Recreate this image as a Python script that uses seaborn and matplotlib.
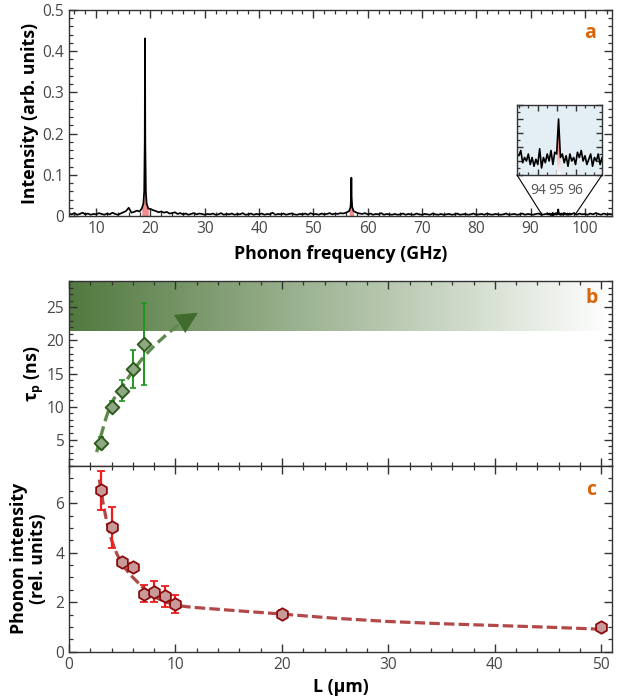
import numpy as np
import matplotlib
matplotlib.use("Agg")
import matplotlib.pyplot as plt
import seaborn as sns
from matplotlib.ticker import MultipleLocator, FuncFormatter
from matplotlib.patches import ConnectionPatch
from matplotlib.colors import LinearSegmentedColormap

# ---------------- (a) phonon spectrum ----------------
# background signal, sampled every 0.5 GHz from 5 GHz, in units of 1e-3
baseline_milli = [
    6, 4, 7, 3, 5, 8, 4, 6, 3, 5,
    4, 7, 5, 3, 6, 4, 8, 5, 3, 6,
    9, 12, 20, 8, 10, 13, 11, 16, 22, 18,
    17, 14, 12, 9, 11, 8, 10, 6, 7, 9,
    5, 7, 4, 6, 3, 5, 7, 4, 6, 5,
    3, 5, 4, 6, 3, 4, 7, 3, 5, 4,
    6, 3, 5, 4, 7, 3, 4, 6, 3, 5,
    4, 6, 3, 5, 4, 8, 3, 5, 4, 6,
    3, 5, 6, 4, 3, 5, 4, 6, 3, 7,
    4, 5, 3, 6, 4, 5, 7, 4, 6, 5,
    7, 6, 8, 9, 14, 12, 8, 6, 5, 7,
    4, 6, 3, 5, 4, 7, 3, 5, 4, 3,
    5, 3, 4, 6, 3, 5, 4, 3, 6, 4,
    3, 5, 4, 3, 6, 4, 3, 5, 3, 4,
    5, 3, 4, 6, 3, 4, 5, 3, 4, 6,
    3, 4, 5, 3, 6, 4, 3, 5, 4, 3,
    4, 6, 3, 4, 5, 3, 4, 6, 3, 5,
    4, 3, 5, 6, 3, 4, 5, 3, 6, 4,
    9, 4, 6, 3, 5, 4, 7, 3, 6, 4,
    5, 3, 6, 4, 7, 5, 3, 6, 4, 5,
    4,
]
peak19_freq = [18.4, 18.7, 18.85, 18.95, 19.0, 19.05, 19.15, 19.3, 19.6]
peak19_int = [0.018, 0.03, 0.06, 0.18, 0.431, 0.18, 0.06, 0.03, 0.018]
peak57_freq = [56.6, 56.85, 56.95, 57.0, 57.05, 57.15, 57.4]
peak57_int = [0.012, 0.022, 0.045, 0.093, 0.045, 0.022, 0.012]

# fine scan around 95 GHz (units of 1e-3), 0.1 GHz steps from 93.0 GHz
zoom_milli = [
    5.5, 7, 3.5, 5, 4, 6, 3, 5, 2.5, 4.5,
    3, 7.5, 2, 5, 3.5, 6, 4, 7, 3, 6.5,
    6, 16, 5, 6, 3.5, 5.5, 2.5, 6, 4, 5,
    3, 6.5, 5, 7, 4, 5.5, 3, 4.5, 6, 2.5,
    5, 4, 6, 3, 5, 4,
]
zoom_ticks = [94, 95, 96]

# ---------------- (b) lifetime ----------------
L_tau = [3, 4, 5, 6, 7]
tau = [4.5, 10.0, 12.4, 15.7, 19.5]
tau_err = [0.9, 0.8, 1.6, 2.9, 6.2]
tau_trend_L = [2.6, 3.0, 3.5, 4.0, 4.5, 5.0, 6.0, 7.0, 8.0, 9.3, 10.5]
tau_trend = [3.1, 5.6, 8.4, 10.6, 11.9, 13.0, 15.4, 17.5, 19.2, 21.1, 22.6]
tau_arrow_tip = (12.1, 24.2)
tau_band = (21.4, 29.0)

# ---------------- (c) phonon intensity ----------------
L_int = [3, 4, 5, 6, 7, 8, 9, 10, 20, 50]
phonon = [6.52, 5.02, 3.64, 3.44, 2.34, 2.43, 2.23, 1.93, 1.53, 0.99]
phonon_err = [0.78, 0.83, 0.10, 0.15, 0.35, 0.44, 0.44, 0.37, 0.15, 0.06]
fit_L = [2.85, 3.2, 3.5, 4.0, 4.5, 5.0, 6.0, 7.0, 8.0, 9.0, 10.0, 11.0, 12.0,
         15.0, 20.0, 25.0, 30.0, 35.0, 40.0, 45.0, 50.5]
fit_int = [6.95, 6.0, 5.35, 4.5, 3.95, 3.5, 3.0, 2.57, 2.22, 2.02, 1.88, 1.82,
           1.78, 1.68, 1.52, 1.35, 1.22, 1.13, 1.06, 0.99, 0.9]

# ---------------- style ----------------
sns.set_theme(style="ticks")
plt.rcParams["font.family"] = ["Open Sans", "DejaVu Sans"]
plt.rcParams["mathtext.fontset"] = "custom"
plt.rcParams["mathtext.rm"] = "Open Sans"
plt.rcParams["mathtext.bf"] = "Open Sans:bold"
plt.rcParams["mathtext.it"] = "Open Sans:italic"

SPINE = "#333333"
TICKLAB = "#484848"
ORANGE = "#d9650b"
LABEL_SIZE = 12.8
TICK_SIZE = 11.2

fig = plt.figure(figsize=(6.23, 7.0), dpi=100)
W, H = 623, 700


def px_axes(x0, y0, x1, y1):
    return fig.add_axes([x0 / W, 1 - y1 / H, (x1 - x0) / W, (y1 - y0) / H])


ax_a = px_axes(69, 10, 612, 216)
ax_b = px_axes(69, 281, 612, 466)
ax_c = px_axes(69, 466, 612, 651.7)
ax_in = px_axes(517, 105, 602, 175)


def style_axes(ax, labelsize=TICK_SIZE):
    for s in ax.spines.values():
        s.set_color(SPINE)
        s.set_linewidth(1.0)
    ax.tick_params(which="both", direction="in", top=True, right=True,
                   color=SPINE, labelcolor=TICKLAB, labelsize=labelsize)
    ax.tick_params(which="major", length=5.5, width=1.0)
    ax.tick_params(which="minor", length=3, width=0.9)


# ---- panel a ----
base_f = 5.0 + 0.5 * np.arange(len(baseline_milli))
base_v = np.array(baseline_milli) * 1e-3
zoom_f = 93.0 + 0.1 * np.arange(len(zoom_milli))
zoom_v = np.array(zoom_milli) * 1e-3
keep = ~(((base_f >= 18.3) & (base_f <= 19.7)) |
         ((base_f >= 56.5) & (base_f <= 57.5)) |
         ((base_f >= 92.9) & (base_f <= 97.6)))
spec_f = np.concatenate([base_f[keep], peak19_freq, peak57_freq, zoom_f])
spec_v = np.concatenate([base_v[keep], peak19_int, peak57_int, zoom_v])
order = np.argsort(spec_f)
spec_f, spec_v = spec_f[order], spec_v[order]

ax_a.fill_between(peak19_freq, 0, peak19_int, color="#f08c8c", lw=0, zorder=1)
ax_a.fill_between(peak57_freq, 0, peak57_int, color="#f08c8c", lw=0, zorder=1)
sns.lineplot(x=spec_f, y=spec_v, ax=ax_a, color="black", lw=1.25,
             estimator=None, sort=False, zorder=2)
ax_a.set_xlim(5, 105)
ax_a.set_ylim(0, 0.5)
ax_a.xaxis.set_major_locator(MultipleLocator(10))
ax_a.xaxis.set_minor_locator(MultipleLocator(2))
ax_a.yaxis.set_major_locator(MultipleLocator(0.1))
ax_a.yaxis.set_minor_locator(MultipleLocator(0.02))
ax_a.yaxis.set_major_formatter(FuncFormatter(lambda v, _: f"{v:g}"))
style_axes(ax_a)
ax_a.set_xlabel("Phonon frequency (GHz)", fontsize=LABEL_SIZE,
                fontweight="bold", color="black")
ax_a.set_ylabel("Intensity (arb. units)", fontsize=LABEL_SIZE,
                fontweight="bold", color="black")
ax_a.xaxis.set_label_coords(0.5, -0.14)
ax_a.yaxis.label.set_va("center")
ax_a.yaxis.set_label_coords(-0.072, 0.5)
ax_a.text(0.96, 0.888, "a", transform=ax_a.transAxes, color=ORANGE,
          fontsize=14, fontweight="bold", ha="center", va="center")

# ---- inset ----
ax_in.set_facecolor("#e3eff4")
pk = slice(20, 23)
poly = ax_in.fill_between(zoom_f[pk], 0, np.array(zoom_milli[pk]),
                          color="none", lw=0)
red_white = LinearSegmentedColormap.from_list("rw", ["#ffffff", "#e51e1e"])
im = ax_in.imshow(np.linspace(0, 1, 100).reshape(-1, 1),
                  extent=[zoom_f[20], zoom_f[22], 0, max(zoom_milli)],
                  origin="lower", cmap=red_white, aspect="auto", zorder=1)
im.set_clip_path(poly.get_paths()[0], transform=ax_in.transData)
sns.lineplot(x=zoom_f, y=zoom_milli, ax=ax_in, color="black", lw=1.2,
             estimator=None, sort=False, zorder=2)
ax_in.set_xlim(92.9, 97.4)
ax_in.set_ylim(0, 20)
ax_in.set_xticks(zoom_ticks)
ax_in.xaxis.set_minor_locator(MultipleLocator(0.5))
ax_in.yaxis.set_major_locator(MultipleLocator(4))
ax_in.yaxis.set_minor_locator(MultipleLocator(2))
style_axes(ax_in, labelsize=10)
ax_in.tick_params(which="major", length=4)
ax_in.tick_params(which="minor", length=2.5)
ax_in.tick_params(axis="x", pad=6, labelcolor="#555555")
ax_in.tick_params(axis="y", labelleft=False)
for xa in (0, 1):
    con = ConnectionPatch(xyA=(xa, 0), coordsA=ax_in.transAxes,
                          xyB=(92.1 if xa == 0 else 98.2, 0.003),
                          coordsB=ax_a.transData, color="black", lw=0.8)
    fig.add_artist(con)

# ---- panel b ----
green_white = LinearSegmentedColormap.from_list("gw", ["#52793f", "#ffffff"])
ax_b.imshow(np.linspace(0, 1, 256).reshape(1, -1),
            extent=[0, 51, tau_band[0], tau_band[1]], cmap=green_white,
            aspect="auto", zorder=0)
sns.lineplot(x=tau_trend_L + [tau_arrow_tip[0] - 0.7],
             y=tau_trend + [tau_arrow_tip[1] - 0.7], ax=ax_b,
             color="#5f8a4e", lw=2.4, estimator=None, sort=False, zorder=2)
ax_b.get_lines()[-1].set_dashes([3.2, 1.6])
ax_b.annotate("", xy=tau_arrow_tip, xytext=(tau_trend_L[-1], tau_trend[-1]),
              arrowprops=dict(arrowstyle="-|>,head_length=1.1,head_width=0.55",
                              mutation_scale=14, color="#3f6b2d", lw=0,
                              shrinkA=0, shrinkB=0),
              zorder=3)
ax_b.errorbar(L_tau, tau, yerr=tau_err, fmt="none", ecolor="#1f961f",
              elinewidth=1.4, capsize=2.5, capthick=1.2, zorder=3)
sns.scatterplot(x=L_tau, y=tau, ax=ax_b, marker="D", s=48,
                color="#8ea883", edgecolor="#2e5a1f", linewidth=1.4, zorder=4)
ax_b.set_xlim(0, 51)
ax_b.set_ylim(1, 29)
ax_b.xaxis.set_major_locator(MultipleLocator(10))
ax_b.xaxis.set_minor_locator(MultipleLocator(2))
ax_b.yaxis.set_major_locator(MultipleLocator(5))
ax_b.yaxis.set_minor_locator(MultipleLocator(1))
style_axes(ax_b)
ax_b.tick_params(axis="x", labelbottom=False)
ax_b.set_ylabel(r"$\mathbf{\tau_p}$ (ns)", fontsize=LABEL_SIZE,
                fontweight="bold", color="black")
ax_b.yaxis.label.set_va("center")
ax_b.yaxis.set_label_coords(-0.064, 0.5)
ax_b.text(0.963, 0.908, "b", transform=ax_b.transAxes, color=ORANGE,
          fontsize=14, fontweight="bold", ha="center", va="center")

# ---- panel c ----
sns.lineplot(x=fit_L, y=fit_int, ax=ax_c, color="#b24848", lw=2.3,
             estimator=None, sort=False, zorder=2)
ax_c.get_lines()[-1].set_dashes([3.3, 1.3])
ax_c.errorbar(L_int, phonon, yerr=phonon_err, fmt="none", ecolor="#ee1c1c",
              elinewidth=1.6, capsize=2.8, capthick=1.3, zorder=3)
sns.scatterplot(x=L_int, y=phonon, ax=ax_c, marker="h", s=80,
                color="#c99a9a", edgecolor="#8b0a0a", linewidth=1.3, zorder=4)
ax_c.set_xlim(0, 51)
ax_c.set_ylim(0, 7.5)
ax_c.xaxis.set_major_locator(MultipleLocator(10))
ax_c.xaxis.set_minor_locator(MultipleLocator(2))
ax_c.yaxis.set_major_locator(MultipleLocator(2))
ax_c.yaxis.set_minor_locator(MultipleLocator(0.5))
style_axes(ax_c)
ax_c.set_xlabel("L (µm)", fontsize=LABEL_SIZE, fontweight="bold",
                color="black")
ax_c.xaxis.set_label_coords(0.5, -0.14)
ax_c.set_ylabel("Phonon intensity\n(rel. units)", fontsize=LABEL_SIZE,
                fontweight="bold", color="black", linespacing=1.05)
ax_c.yaxis.label.set_va("center")
ax_c.yaxis.set_label_coords(-0.075, 0.5)
ax_c.text(0.961, 0.871, "c", transform=ax_c.transAxes, color=ORANGE,
          fontsize=14, fontweight="bold", ha="center", va="center")

fig.savefig("out.png", dpi=100)
